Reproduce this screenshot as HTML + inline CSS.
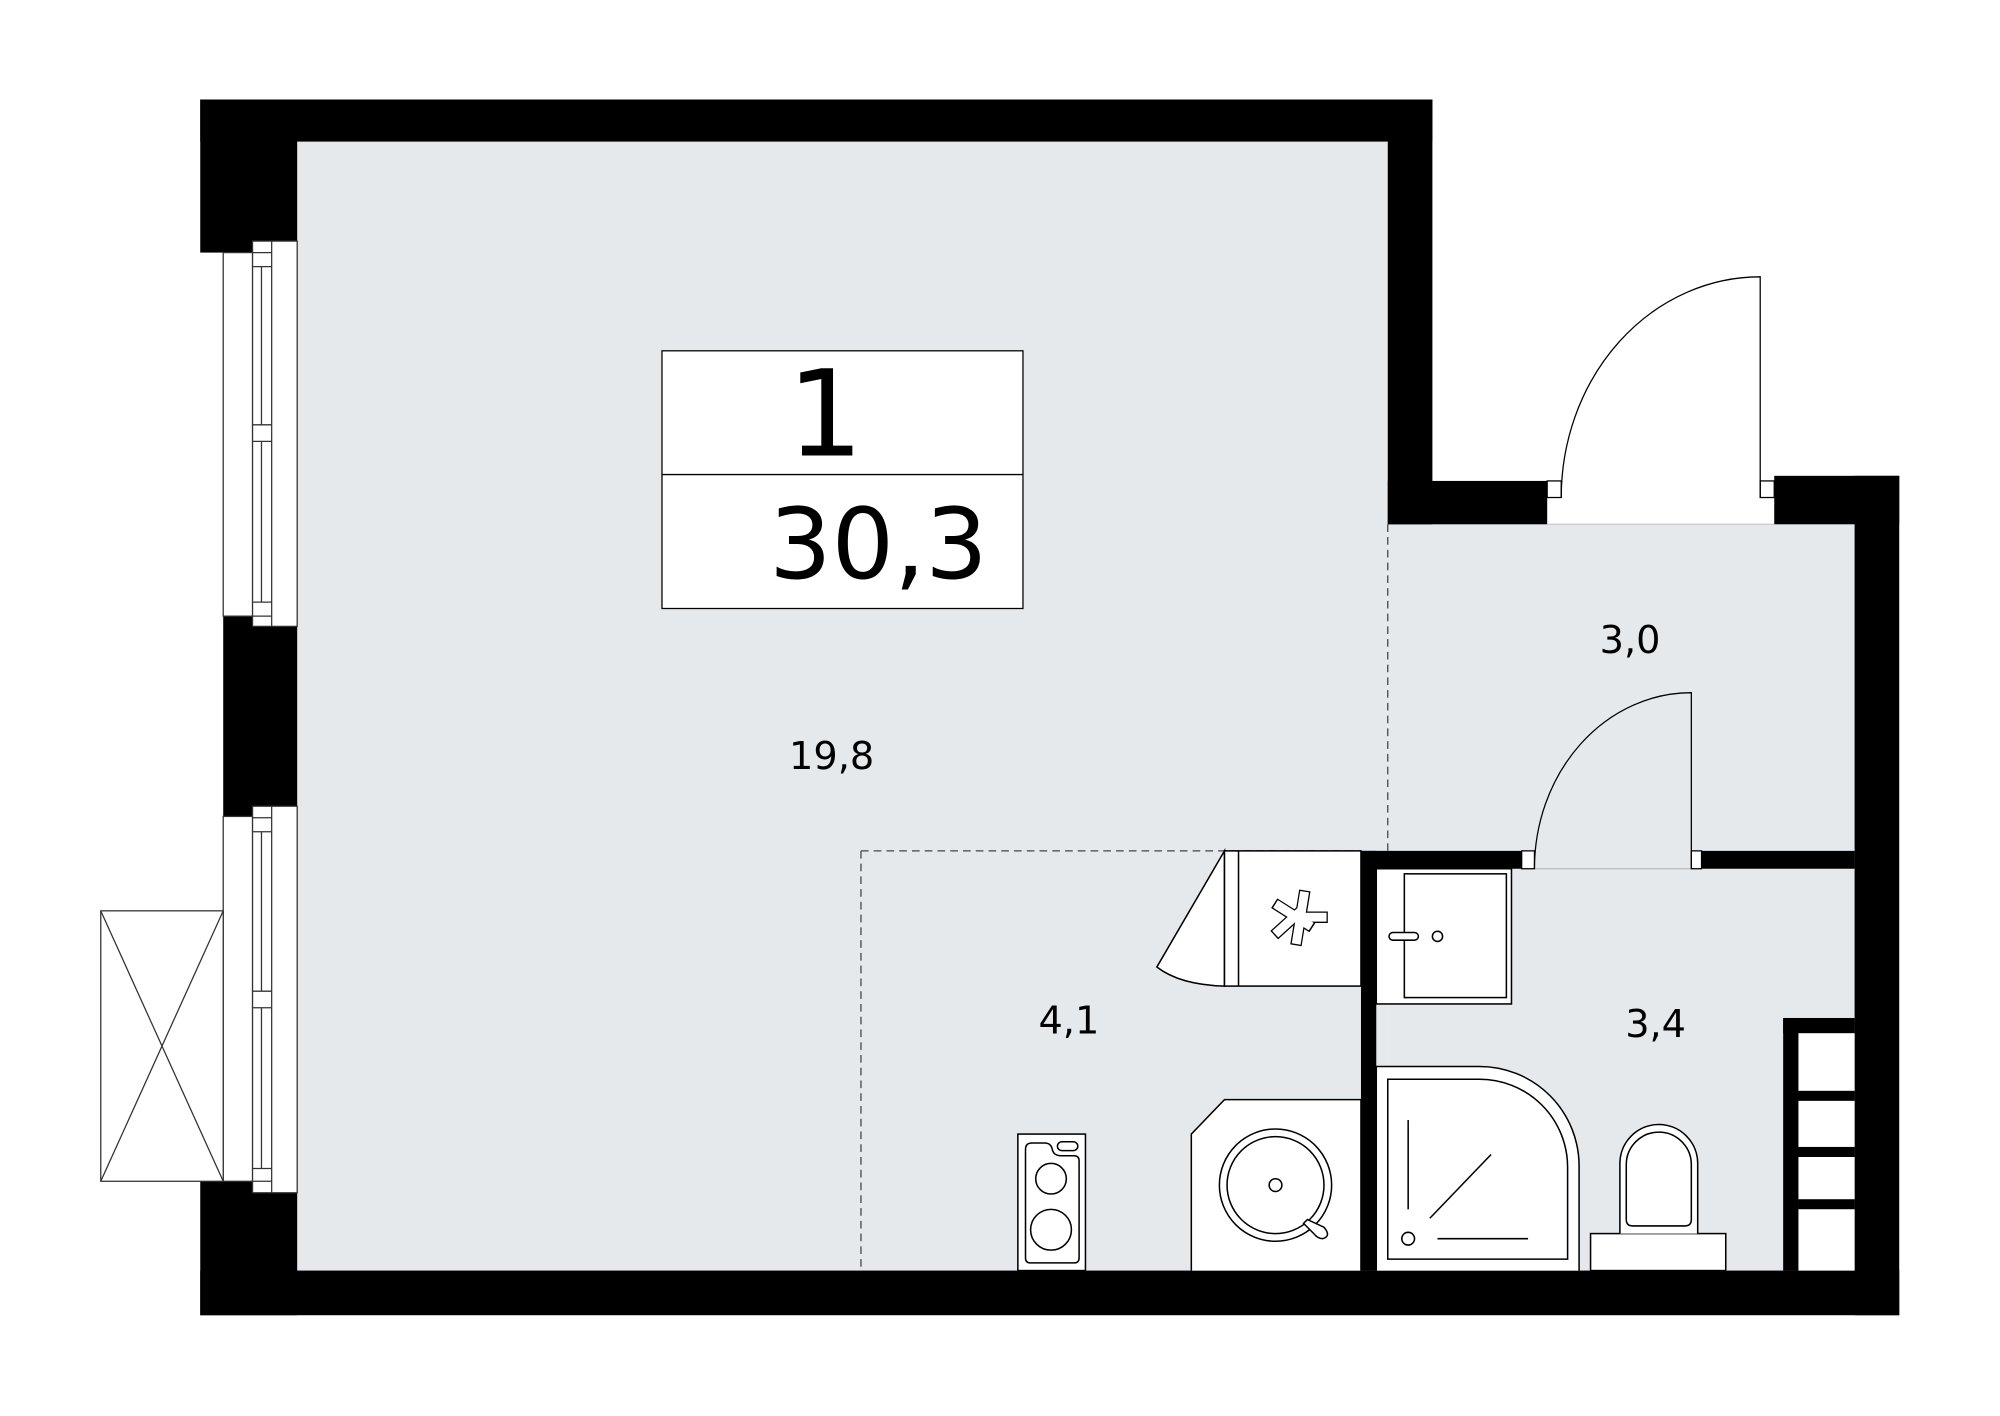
<!DOCTYPE html>
<html><head><meta charset="utf-8"><style>
html,body{margin:0;padding:0;background:#fff;}
svg{display:block;}
text{font-family:"DejaVu Sans","Liberation Sans",sans-serif;fill:#000;}
</style></head><body>
<svg width="2000" height="1416" viewBox="0 0 1568 1110" preserveAspectRatio="none" xmlns="http://www.w3.org/2000/svg">
<rect width="1568" height="1110" fill="#fff"/>
<!-- floor -->
<rect x="233" y="111" width="855" height="885" fill="#e5e9ec"/>
<rect x="1088" y="411" width="366" height="585" fill="#e5e9ec"/>
<!-- walls -->
<g fill="#000">
<rect x="157" y="78" width="966" height="33"/>
<rect x="157" y="78" width="76" height="120"/>
<rect x="175" y="483" width="58" height="157"/>
<rect x="157" y="926" width="76" height="105"/>
<rect x="157" y="996" width="1332" height="35"/>
<rect x="1088" y="78" width="35" height="333"/>
<rect x="1088" y="377" width="125" height="34"/>
<rect x="1391" y="373" width="98" height="38"/>
<rect x="1454" y="373" width="35" height="658"/>
<rect x="1067" y="667" width="130" height="14"/>
<rect x="1334" y="667" width="120" height="14"/>
<rect x="1067" y="667" width="12" height="329"/>
<rect x="1398" y="798" width="12" height="198"/>
<rect x="1398" y="798" width="56" height="12"/>
<rect x="1410" y="855" width="44" height="8"/>
<rect x="1410" y="899" width="44" height="8"/>
<rect x="1410" y="940" width="44" height="8"/>
</g>
<!-- windows -->
<g fill="#fff" stroke="#333" stroke-width="1">
<rect x="175" y="198" width="23" height="285"/>
<rect x="198" y="189" width="35" height="302"/>
<line x1="213" y1="189" x2="213" y2="491"/>
<line x1="198" y1="198" x2="213" y2="198"/><line x1="198" y1="209" x2="213" y2="209"/>
<line x1="198" y1="333" x2="213" y2="333"/><line x1="198" y1="346" x2="213" y2="346"/>
<line x1="198" y1="472" x2="213" y2="472"/><line x1="198" y1="483" x2="213" y2="483"/>
<line x1="205" y1="209" x2="205" y2="333"/><line x1="205" y1="346" x2="205" y2="472"/>
<rect x="175" y="640" width="23" height="286"/>
<rect x="198" y="632" width="35" height="303"/>
<line x1="213" y1="632" x2="213" y2="935"/>
<line x1="198" y1="641" x2="213" y2="641"/><line x1="198" y1="652" x2="213" y2="652"/>
<line x1="198" y1="777" x2="213" y2="777"/><line x1="198" y1="790" x2="213" y2="790"/>
<line x1="198" y1="916" x2="213" y2="916"/><line x1="198" y1="926" x2="213" y2="926"/>
<line x1="205" y1="652" x2="205" y2="777"/><line x1="205" y1="790" x2="205" y2="916"/>
<rect x="79" y="714" width="96" height="212"/>
<line x1="79" y1="714" x2="175" y2="926"/><line x1="175" y1="714" x2="79" y2="926"/>
</g>
<!-- dashed -->
<g stroke="#444" stroke-width="1" stroke-dasharray="6,4" fill="none">
<line x1="1088" y1="411" x2="1088" y2="667"/>
<line x1="675" y1="667" x2="1067" y2="667"/>
<line x1="675" y1="667" x2="675" y2="996"/>
</g>
<line x1="1213" y1="411" x2="1391" y2="411" stroke="#ccc" stroke-width="1"/>
<line x1="1203" y1="681" x2="1326" y2="681" stroke="#bbb" stroke-width="1"/>
<!-- doors -->
<g fill="#fff" stroke="#000" stroke-width="1">
<rect x="1213" y="377" width="11" height="13"/>
<rect x="1380" y="377" width="11" height="13"/>
<path d="M1224 390 A156 173 0 0 1 1380 217 L1380 390" fill="none"/>
<rect x="1193" y="667" width="10" height="14"/>
<rect x="1326" y="667" width="8" height="14"/>
<path d="M1203 681 A123 138 0 0 1 1326 543 L1326 681" fill="none"/>
</g>
<!-- label box -->
<rect x="519" y="275" width="283" height="202" fill="#fff" stroke="#000" stroke-width="1"/>
<line x1="519" y1="372" x2="802" y2="372" stroke="#000" stroke-width="1"/>
<text x="647" y="357" font-size="94" text-anchor="middle">1</text>
<text x="603" y="453" font-size="77">30,3</text>
<text x="652" y="603" font-size="30" text-anchor="middle">19,8</text>
<text x="1278" y="512" font-size="30" text-anchor="middle">3,0</text>
<text x="838" y="810" font-size="30" text-anchor="middle">4,1</text>
<text x="1298" y="813" font-size="30" text-anchor="middle">3,4</text>
<!-- kitchen fixtures -->
<g fill="#fff" stroke="#000" stroke-width="1.2">
<path d="M960 667 L907 758 Q925 772 960 773 Z"/>
<rect x="960" y="667" width="107" height="106"/>
<line x1="971" y1="667" x2="971" y2="773"/>
<rect x="798" y="889" width="53" height="107"/>
<path d="M809 896 L819 896 Q824 896 825 901 Q826 906 832 906 L842 906 Q846 906 846 910 L846 986 Q846 990 842 990 L808 990 Q804 990 804 986 L804 901 Q804 896 809 896 Z"/>
<rect x="829" y="895" width="16" height="7" rx="3.5"/>
<circle cx="824" cy="924" r="12"/>
<circle cx="824" cy="964" r="16"/>
<path d="M934 996 L934 889 L960 862 L1067 862 L1067 996"/>
<circle cx="1000" cy="929" r="44"/>
<circle cx="1000" cy="929" r="38"/>
<circle cx="1000" cy="929" r="5"/>
<path d="M1025 956 L1038 962 Q1044 969 1037 971 Q1033 971 1030 967 L1022 959 Z"/>
</g>
<g stroke-linecap="butt">
<g stroke="#000" stroke-width="9"><line x1="1023" y1="698" x2="1016" y2="741"/><line x1="999" y1="708" x2="1029" y2="727"/><line x1="999" y1="733" x2="1020" y2="714"/><line x1="1016" y1="719" x2="1041" y2="719"/></g>
<g stroke="#fff" stroke-width="7"><line x1="1022.8" y1="699" x2="1016.2" y2="740"/><line x1="1000" y1="708.6" x2="1028" y2="726.4"/><line x1="999.8" y1="732.3" x2="1020" y2="714"/><line x1="1016" y1="719" x2="1040" y2="719"/></g>
</g>
<!-- bathroom fixtures -->
<g fill="#fff" stroke="#000" stroke-width="1.2">
<rect x="1079" y="681" width="106" height="106"/>
<rect x="1101" y="685" width="80" height="97"/>
<rect x="1089" y="731" width="23" height="6" rx="3"/>
<circle cx="1127" cy="734" r="4"/>
<path d="M1079 996 L1079 836 L1160 836 A78 78 0 0 1 1238 914 L1238 996"/>
<path d="M1088 987 L1088 846 L1160 846 A69 69 0 0 1 1229 915 L1229 987 Z"/>
<line x1="1104" y1="878" x2="1104" y2="948"/>
<line x1="1121" y1="955" x2="1169" y2="905"/>
<line x1="1127" y1="971" x2="1198" y2="971"/>
<circle cx="1104" cy="971" r="5"/>
<rect x="1247" y="967" width="106" height="29"/>
<path d="M1270 967 L1270 912 A30.5 30.5 0 0 1 1331 912 L1331 967"/>
<path d="M1275 956 L1275 913 A25.5 25.5 0 0 1 1326 913 L1326 956 Q1326 961 1321 961 L1280 961 Q1275 961 1275 956 Z"/>
</g>
<g fill="#fff">
<rect x="1410" y="810" width="44" height="45"/>
<rect x="1410" y="863" width="44" height="36"/>
<rect x="1410" y="907" width="44" height="33"/>
<rect x="1410" y="948" width="44" height="48"/>
</g>
</svg>
</body></html>
